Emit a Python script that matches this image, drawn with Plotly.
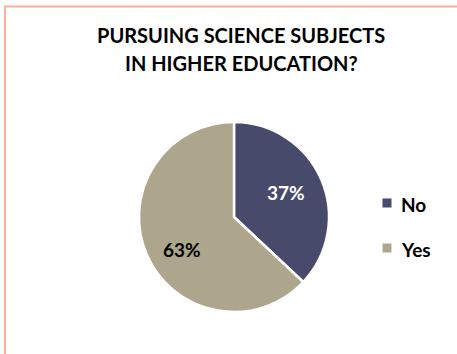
import math
import plotly.graph_objects as go

labels = ["No", "Yes"]
values = [37, 63]
colors = ["#474A6B", "#ADA68C"]
text_colors = ["white", "black"]
title_lines = ["PURSUING SCIENCE SUBJECTS", "IN HIGHER EDUCATION?"]

W, H = 457, 354
cx, cy, r = 234, 217, 95
FONT = "Lato, Liberation Sans, Arial"

fig = go.Figure(go.Pie(
    labels=labels, values=values, sort=False, direction="clockwise", rotation=0,
    marker=dict(colors=colors, line=dict(color="white", width=2.5)),
    textinfo="none", showlegend=False,
    domain=dict(x=[(cx - r) / W, (cx + r) / W], y=[(H - cy - r) / H, (H - cy + r) / H]),
    hoverinfo="skip",
))

annotations = []
# title lines
for i, line in enumerate(title_lines):
    annotations.append(dict(text=f"<b>{line}</b>", x=241 / W, y=1 - (35 + 28 * i) / H,
                            xref="paper", yref="paper", xanchor="center", yanchor="middle",
                            showarrow=False, font=dict(size=20, color="black", family=FONT)))

# slice percentage labels, positioned from the data
total = sum(values)
cum = 0
for v, tc in zip(values, text_colors):
    mid = (cum + v / 2) / total * 2 * math.pi
    cum += v
    px = cx + 0.6 * r * math.sin(mid)
    py = cy - 0.6 * r * math.cos(mid) + (10 if mid > math.pi else -2)
    annotations.append(dict(text=f"<b>{round(v / total * 100)}%</b>", x=px / W, y=1 - py / H,
                            xref="paper", yref="paper", xanchor="center", yanchor="middle",
                            showarrow=False, font=dict(size=19, color=tc, family=FONT)))

# legend
shapes = [
    dict(type="line", xref="paper", yref="paper", x0=4 / W, x1=1, y0=1 - 6.5 / H, y1=1 - 6.5 / H,
         line=dict(color="#FCAF96", width=2)),
    dict(type="line", xref="paper", yref="paper", x0=5 / W, x1=5 / W, y0=0, y1=1 - 6.5 / H,
         line=dict(color="#FCAF96", width=2)),
]
for i, (lab, col) in enumerate(zip(labels, colors)):
    ly = 203 + 45 * i
    shapes.append(dict(type="rect", xref="paper", yref="paper",
                       x0=382.5 / W, x1=391.5 / W, y0=1 - (ly + 4.5) / H, y1=1 - (ly - 4.5) / H,
                       fillcolor=col, line=dict(width=0)))
    annotations.append(dict(text=f"<b>{lab}</b>", x=399 / W, y=1 - (ly + 1) / H,
                            xref="paper", yref="paper", xanchor="left", yanchor="middle",
                            showarrow=False, font=dict(size=19, color="black", family=FONT)))

fig.update_layout(
    width=W, height=H, margin=dict(l=0, r=0, t=0, b=0),
    paper_bgcolor="white", plot_bgcolor="white",
    annotations=annotations, shapes=shapes,
)

fig.write_html("out.html")
